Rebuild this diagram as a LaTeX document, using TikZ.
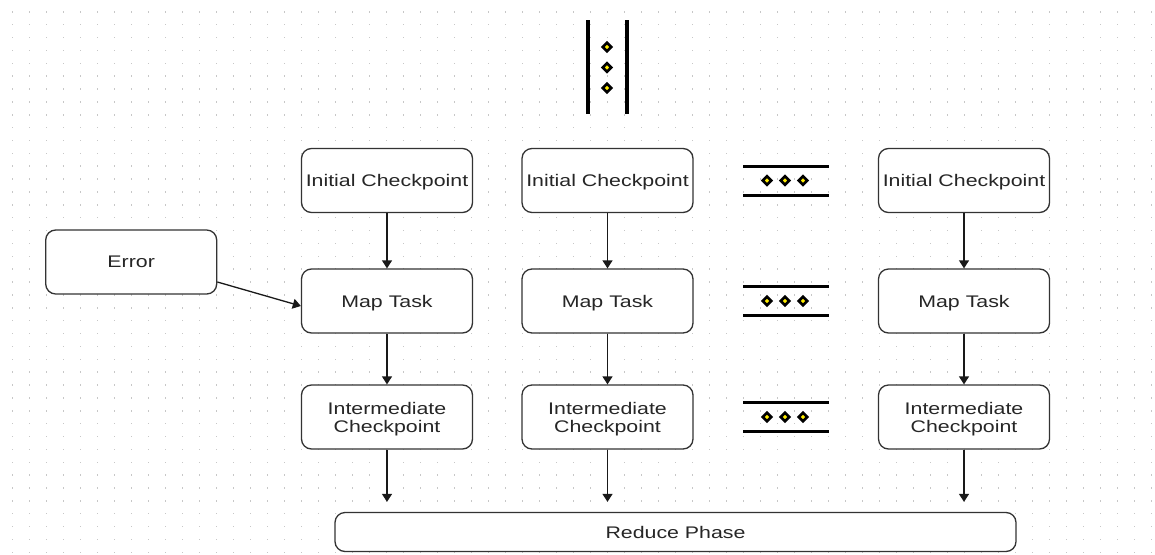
\documentclass[tikz,border=0pt]{standalone}
\usepackage{fontspec}
\newfontfamily\boxfont[FakeStretch=1.27]{Liberation Sans}
\usetikzlibrary{shapes.geometric,arrows.meta}

\tikzset{
  procbox/.style={draw=black!80, line width=1.3pt, rounded corners=10pt, fill=white,
    minimum width=171pt, minimum height=64pt, inner sep=2pt, align=center,
    text depth=0pt, text=black!85, font=\boxfont\fontsize{16.8}{18}\selectfont},
  flow/.style={line width=1.3pt, draw=black!90, -{Triangle[width=10pt,length=8pt]}},
  rail/.style={line width=3.6pt, black},
  gem/.style={diamond, draw=black, fill=yellow!95!orange, line width=2.6pt,
    inner sep=0pt, minimum width=9.5pt, minimum height=9.5pt},
  griddot/.style={fill=black!22}
}

\begin{document}
\begin{tikzpicture}[x=1pt, y=-1pt]
  % canvas and dotted grid
  \useasboundingbox (0,0) rectangle (1155,554);
  \fill[white] (0,0) rectangle (1155,554);
  \foreach \i in {0,...,67} {
    \foreach \j in {0,...,42} {
      \fill[griddot] ({12.7+17*\i-0.75},{11.8+12.87*\j-0.75}) rectangle ++(1.5,1.5);
    }
  }

  % vertical continuation marker above the columns
  \draw[rail] (588,20) -- (588,114);
  \draw[rail] (627,20) -- (627,114);
  \node[gem] (vd1) at (607,47) {};
  \node[gem] (vd2) at (607,67.5) {};
  \node[gem] (vd3) at (607,88) {};

  % column 1
  \node[procbox] (ic1) at (387,180.5) {Initial Checkpoint};
  \node[procbox] (mt1) at (387,301) {Map Task};
  \node[procbox] (im1) at (387,417) {Intermediate\\Checkpoint};
  % column 2
  \node[procbox] (ic2) at (607.5,180.5) {Initial Checkpoint};
  \node[procbox] (mt2) at (607.5,301) {Map Task};
  \node[procbox] (im2) at (607.5,417) {Intermediate\\Checkpoint};
  % column 3
  \node[procbox] (ic3) at (964,180.5) {Initial Checkpoint};
  \node[procbox] (mt3) at (964,301) {Map Task};
  \node[procbox] (im3) at (964,417) {Intermediate\\Checkpoint};

  % error source
  \node[procbox] (err) at (131.2,262) {Error};

  % reduce stage
  \node[procbox, minimum width=681pt, minimum height=39pt] (rp) at (675.5,532) {Reduce Phase};

  % horizontal continuation markers between columns 2 and 3
  \foreach \r/\y in {1/180.5, 2/301, 3/417} {
    \draw[rail, line width=3pt] (743,\y-14.5) -- (829,\y-14.5);
    \draw[rail, line width=3pt] (743,\y+14.5) -- (829,\y+14.5);
    \node[gem] (hd\r a) at (767,\y) {};
    \node[gem] (hd\r b) at (785,\y) {};
    \node[gem] (hd\r c) at (803,\y) {};
  }

  % connectors
  \foreach \c in {1,2,3} {
    \draw[flow] (ic\c) -- (mt\c);
    \draw[flow] (mt\c) -- (im\c);
    \draw[flow, shorten >=10pt] (im\c) -- (im\c |- rp.north);
  }
  \draw[flow] ([yshift=-20pt]err.east) -- ([yshift=-5pt]mt1.west);
\end{tikzpicture}
\end{document}
